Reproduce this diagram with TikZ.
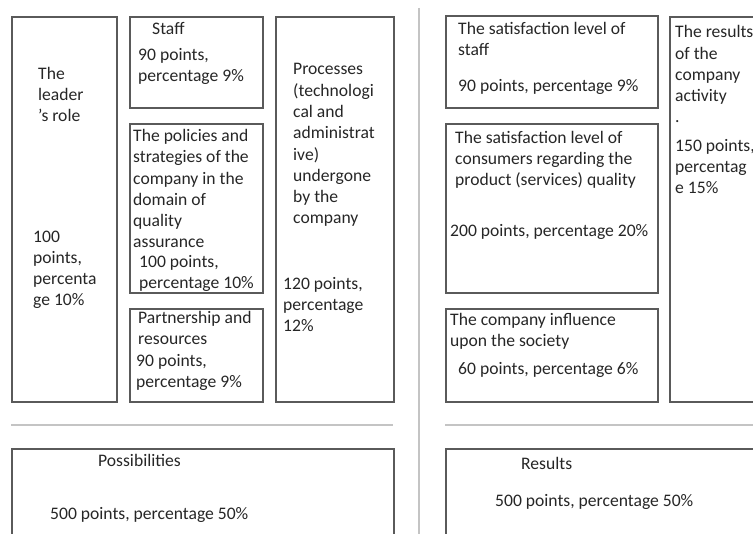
\documentclass[tikz,border=0pt]{standalone}
\usepackage{fontspec}
\setmainfont{Carlito}
\usepackage{xcolor}
\usepackage{tikz}

\definecolor{boxgray}{HTML}{5A5A5A}
\definecolor{rulegray}{HTML}{C4C4C4}
\definecolor{txtgray}{HTML}{262626}

\tikzset{
  box/.style={draw=boxgray, line width=1.6pt, anchor=north west, inner sep=0pt},
  % anchored on the baseline of the last line
  txt/.style={anchor=base west, inner sep=0pt, align=left, text=txtgray,
              font=\fontsize{17.6}{21.3}\selectfont},
  sep/.style={draw=rulegray, line width=1.8pt}
}

\begin{document}
\begin{tikzpicture}[x=1pt,y=-1pt]
  \useasboundingbox (0,0) rectangle (753,534);

  % possibilities side
  \node[box, minimum width=105pt, minimum height=385pt] (leader) at (11,16) {};
  \node[box, minimum width=133pt, minimum height=91pt] (staff) at (129,16) {};
  \node[box, minimum width=133pt, minimum height=169pt] (policies) at (129,123) {};
  \node[box, minimum width=133pt, minimum height=93pt] (partner) at (129,308) {};
  \node[box, minimum width=118pt, minimum height=385pt] (processes) at (275,16) {};

  \node[txt] (leadername) at (38,122) {The\\leader\\’s role};
  \node[txt] (leaderpts) at (33,306) {100\\points,\\percenta\\ge 10\%};

  \node[txt] (staffname) at (152,35) {Staff};
  \node[txt] (staffpts) at (138,82) {90 points,\\percentage 9\%};

  \node[txt] (policiesname) at (133,248) {The policies and\\strategies of the\\company in the\\domain of\\quality\\assurance};
  \node[txt] (policiespts) at (139,289) {100 points,\\percentage 10\%};

  \begin{scope}
    \clip (129,308) rectangle (262,391);
    \node[txt] (partnername) at (138,345) {Partnership and\\resources};
    \node[txt] (partnerpts) at (136,388) {90 points,\\percentage 9\%};
  \end{scope}

  \node[txt] (processesname) at (293,224) {Processes\\(technologi\\cal and\\administrat\\ive)\\undergone\\by the\\company};
  \node[txt] (processespts) at (283,332) {120 points,\\percentage\\12\%};

  % results side
  \node[box, minimum width=212pt, minimum height=92pt] (satstaff) at (445,15) {};
  \node[box, minimum width=212pt, minimum height=169pt] (consumers) at (445,123) {};
  \node[box, minimum width=212pt, minimum height=93pt] (influence) at (445,308) {};
  \node[box, minimum width=130pt, minimum height=385pt] (activity) at (669,16) {};

  \node[txt] (satstaffname) at (458,56) {The satisfaction level of\\staff};
  \node[txt] (satstaffpts) at (458,92) {90 points, percentage 9\%};

  \node[txt] (consumersname) at (455,186) {The satisfaction level of\\consumers regarding the\\product (services) quality};
  \node[txt] (consumerspts) at (450,237) {200 points, percentage 20\%};

  \node[txt] (influencename) at (450,347) {The company influence\\upon the society};
  \node[txt] (influencepts) at (458,375) {60 points, percentage 6\%};

  \node[txt] (activityname) at (675,123) {The results\\of the\\company\\activity\\.};
  \node[txt] (activitypts) at (675,194) {150 points,\\percentag\\e 15\%};

  % totals
  \node[box, minimum width=382pt, minimum height=120pt] (possib) at (11,448) {};
  \node[box, minimum width=340pt, minimum height=120pt] (results) at (445,448) {};

  \node[txt] (possibname) at (98,467) {Possibilities};
  \node[txt] (possibpts) at (50,520) {500 points, percentage 50\%};
  \node[txt] (resultsname) at (521,470) {Results};
  \node[txt] (resultspts) at (495,507) {500 points, percentage 50\%};

  % dividing lines
  \coordinate (midtop) at (419,8);
  \coordinate (midbot) at (419,534);
  \draw[sep] (midtop) -- (midbot);
  \draw[sep] (11,425) -- (393,425);
  \draw[sep] (445,425) -- (753,425);
\end{tikzpicture}
\end{document}
